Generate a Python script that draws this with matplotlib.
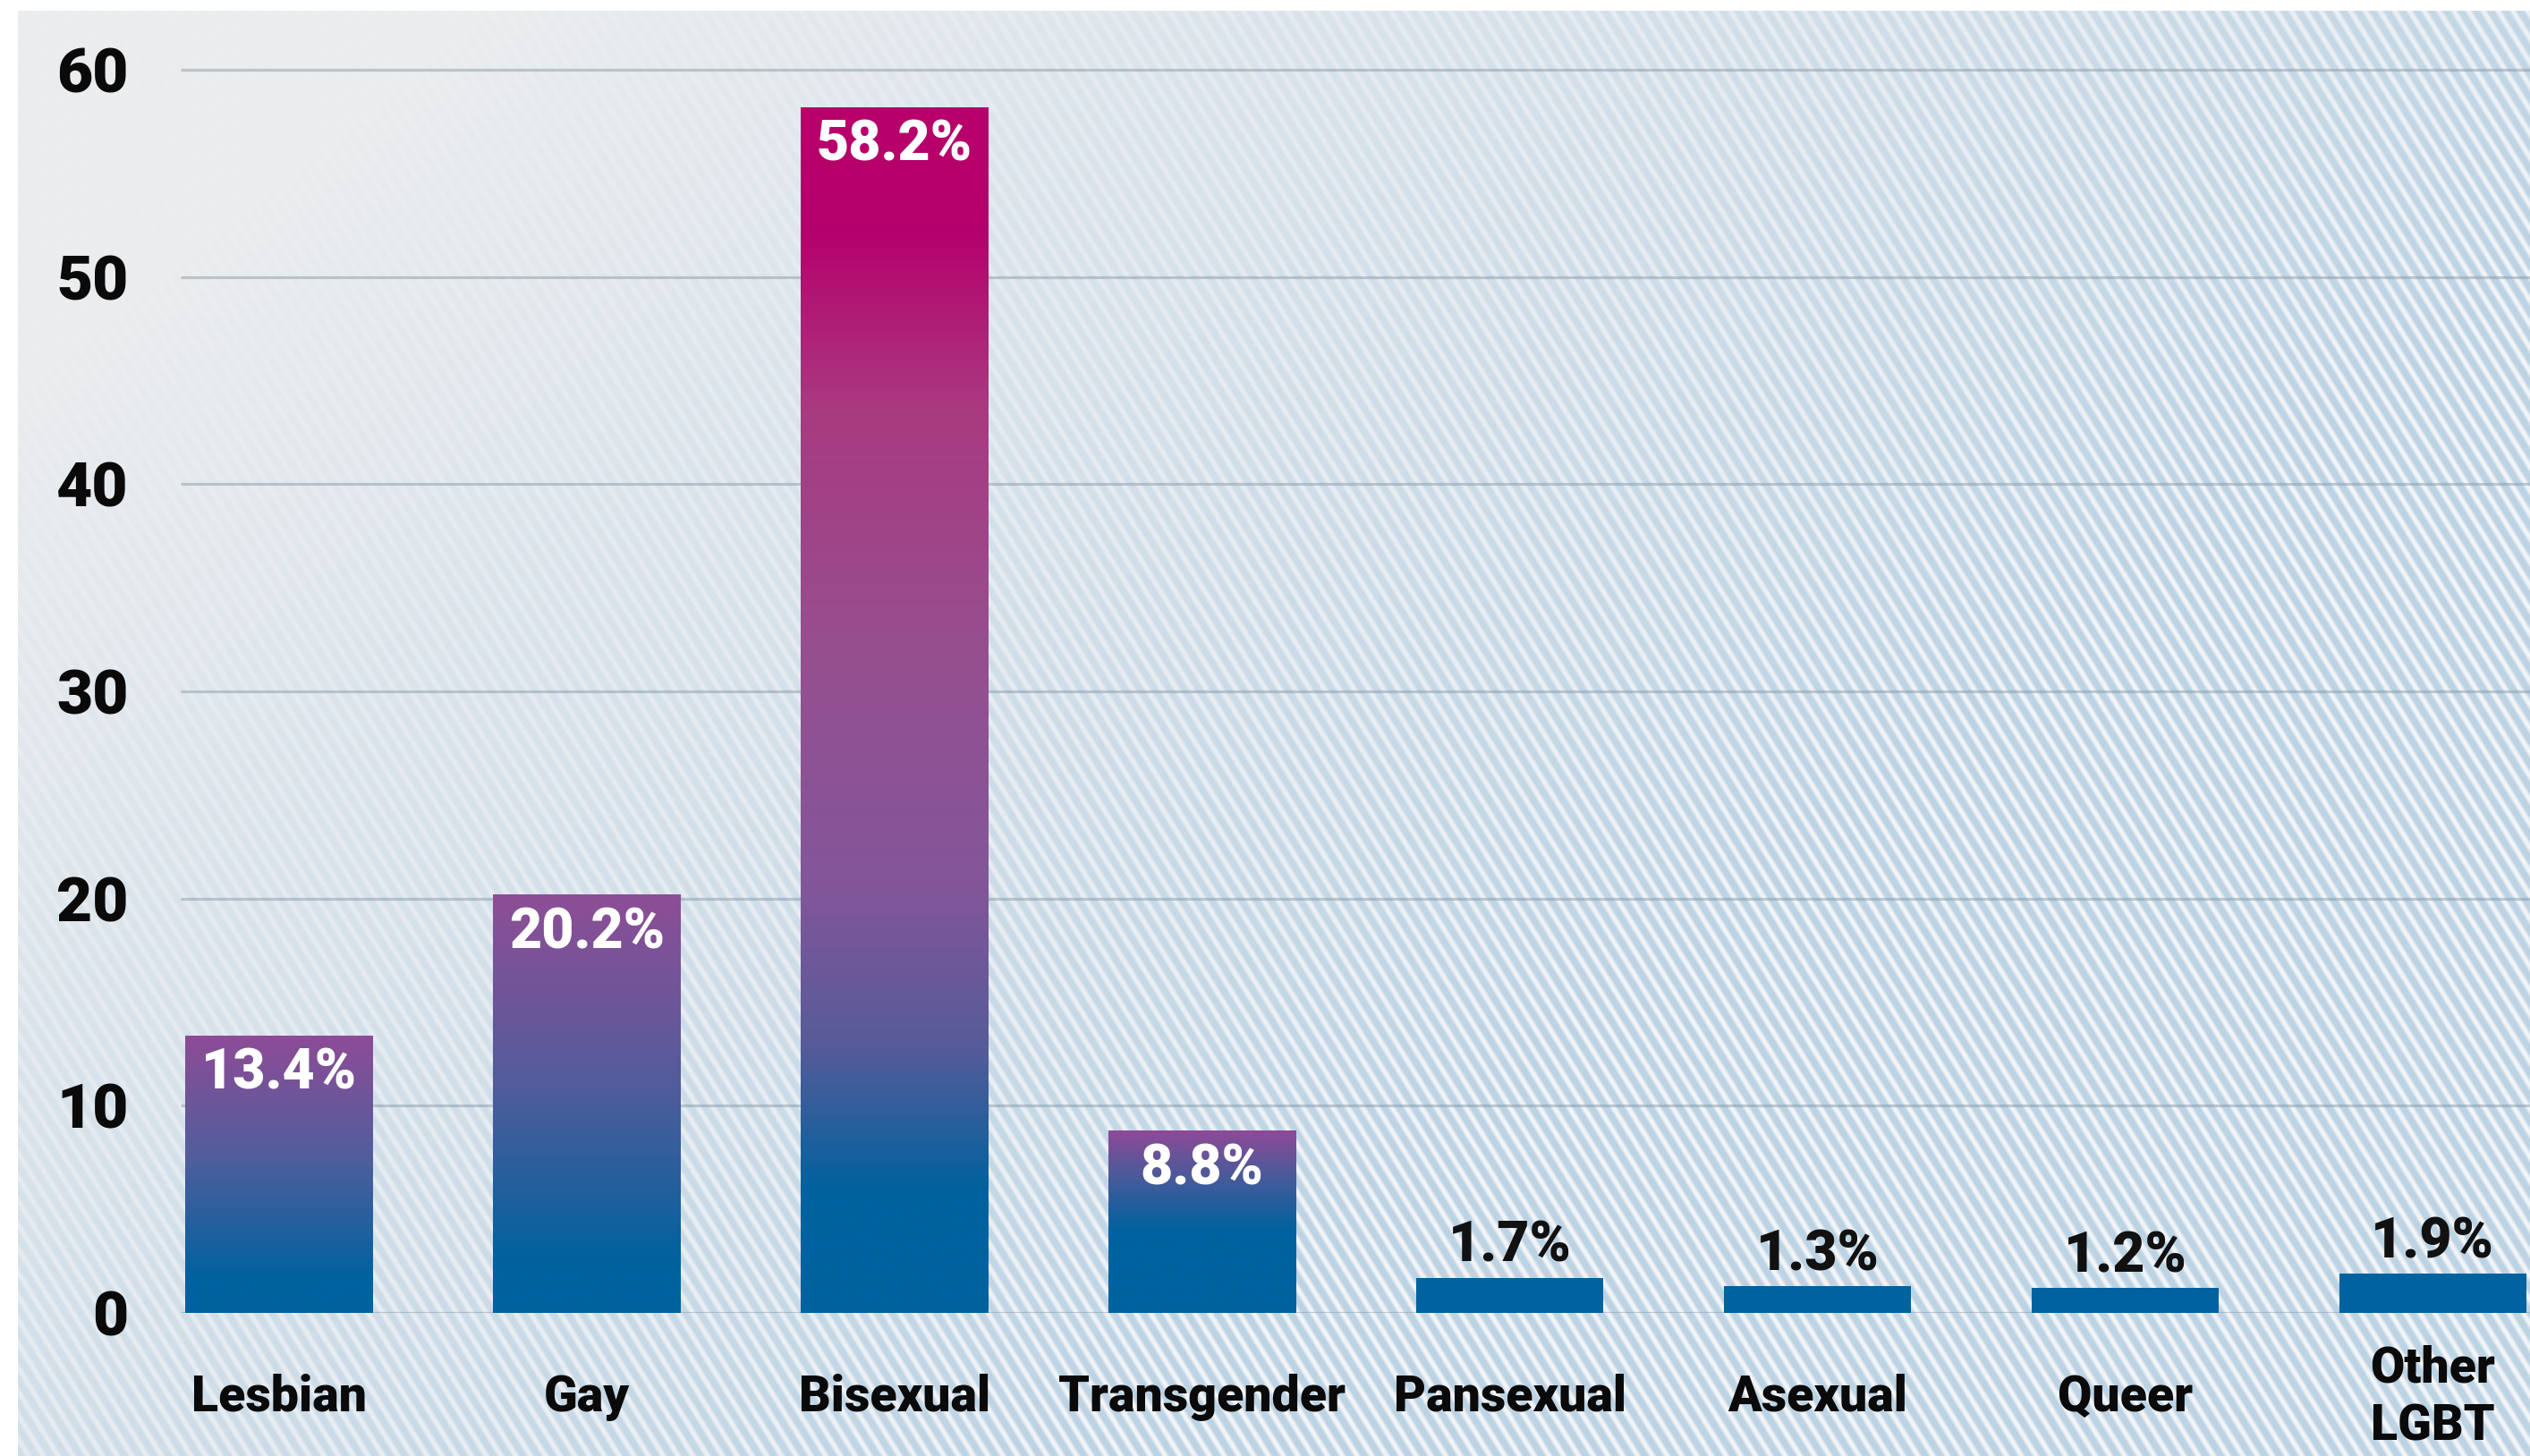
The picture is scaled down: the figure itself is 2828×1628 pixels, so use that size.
import numpy as np
import matplotlib
matplotlib.use("Agg")
import matplotlib.pyplot as plt
from matplotlib.colors import to_rgb

# ---------------- data ----------------
categories = ["Lesbian", "Gay", "Bisexual", "Transgender", "Pansexual",
              "Asexual", "Queer", "Other\nLGBT"]
values = [13.4, 20.2, 58.2, 8.8, 1.7, 1.3, 1.2, 1.9]
value_labels = ["13.4%", "20.2%", "58.2%", "8.8%", "1.7%", "1.3%", "1.2%", "1.9%"]
yticks = [0, 10, 20, 30, 40, 50, 60]

# ---------------- style ----------------
W_PX, H_PX = 2828, 1628
DPI = 100
FONT = ["Roboto", "DejaVu Sans"]
WEIGHT = 900
BLUE = "#00629e"
gradients = {
    0: [(0.0, BLUE), (0.12, BLUE), (0.55, "#4f5e9c"), (1.0, "#8e4c97")],
    1: [(0.0, BLUE), (0.12, BLUE), (0.55, "#535c9b"), (1.0, "#8e4e96")],
    2: [(0.0, BLUE), (0.10, BLUE), (0.22, "#575b99"), (0.35, "#82569a"),
        (0.55, "#964f8f"), (0.75, "#a93a80"), (0.90, "#b5006c"), (1.0, "#b8006a")],
    3: [(0.0, BLUE), (0.45, BLUE), (0.75, "#4a5a9a"), (1.0, "#8e4a97")],
}

fig = plt.figure(figsize=(W_PX / DPI, H_PX / DPI), dpi=DPI, facecolor="white")

# ---------------- background (gradient + diagonal stripes) ----------------
left_margin, top_margin = 20, 12
bw, bh = W_PX - left_margin, H_PX - top_margin
yy, xx = np.mgrid[0:bh, 0:bw].astype(float)
X = xx / bw
Y = yy / bh
t = np.clip(1.05 * X + 0.75 * Y - 0.2, 0, 1)
c0 = np.array([234, 236, 238]) / 255.0
c1 = np.array([188, 211, 228]) / 255.0
base = c0[None, None, :] * (1 - t[..., None]) + c1[None, None, :] * t[..., None]
k = 0.62
period = 16.5
u = (xx - k * yy) / period
p = 0.5 + 0.5 * np.cos(2 * np.pi * u)
p = np.clip((p - 0.3) / 0.7, 0, 1)
strength = 0.15 + 0.85 * t
white = np.array([245, 246, 248]) / 255.0
img = base * (1 - (strength * p)[..., None]) + white[None, None, :] * (strength * p)[..., None]

bg = fig.add_axes([left_margin / W_PX, 0, bw / W_PX, bh / H_PX])
bg.imshow(img, aspect="auto", interpolation="nearest")
bg.set_axis_off()

# ---------------- main axes ----------------
ax_left_px = 202
ax_bottom_px = 160
ax = fig.add_axes([ax_left_px / W_PX, ax_bottom_px / H_PX,
                   (W_PX - ax_left_px) / W_PX, (H_PX - ax_bottom_px) / H_PX])
ax.set_facecolor("none")
px_per_cat = 343.9
px_per_unit = 23.17
x_left = -110 / px_per_cat
x_right = x_left + (W_PX - ax_left_px) / px_per_cat
y_top = (H_PX - ax_bottom_px) / px_per_unit

# gridlines
ax.hlines(yticks, x_left, x_right, colors="#7f95a6", alpha=0.45, linewidth=2.3, zorder=1)

x = np.arange(len(categories))
bar_w = 0.608
bars = ax.bar(x, values, width=bar_w, color="none", edgecolor="none", zorder=2)


def grad_image(stops, n=256):
    f = np.linspace(0, 1, n)
    pos = [s[0] for s in stops]
    cols = np.array([to_rgb(s[1]) for s in stops])
    out = np.zeros((n, 1, 3))
    for ch in range(3):
        out[:, 0, ch] = np.interp(f, pos, cols[:, ch])
    return out


for i, b in enumerate(bars):
    x0, w, h = b.get_x(), b.get_width(), b.get_height()
    if i in gradients:
        im = ax.imshow(grad_image(gradients[i]), origin="lower", aspect="auto",
                       extent=(x0, x0 + w, 0, h), zorder=2, interpolation="bilinear")
        im.set_clip_path(b)
    else:
        b.set_facecolor(BLUE)

for i, (v, lab) in enumerate(zip(values, value_labels)):
    if v > 5:
        ax.annotate(lab, (x[i], v), xytext=(0, -31), textcoords="offset points",
                    ha="center", va="center", color="white", fontsize=45,
                    fontweight=WEIGHT, family=FONT, zorder=4)
    else:
        ax.annotate(lab, (x[i], v), xytext=(0, 25), textcoords="offset points",
                    ha="center", va="center", color="#111111", fontsize=45,
                    fontweight=WEIGHT, family=FONT, zorder=4)

ax.set_xlim(x_left, x_right)
ax.set_ylim(0, y_top)

ax.set_yticks(yticks)
ax.set_yticklabels([str(t_) for t_ in yticks], fontsize=50, fontweight=WEIGHT,
                   family=FONT, color="#0a0a0a")
ax.tick_params(axis="y", length=0, pad=42)
ax.set_xticks(x)
ax.set_xticklabels(categories, fontsize=40, fontweight=WEIGHT, family=FONT,
                   color="#0a0a0a", va="center", linespacing=1.3)
ax.tick_params(axis="x", length=0, pad=68)
for s in ax.spines.values():
    s.set_visible(False)

fig.savefig("out.png", dpi=DPI, facecolor="white")
